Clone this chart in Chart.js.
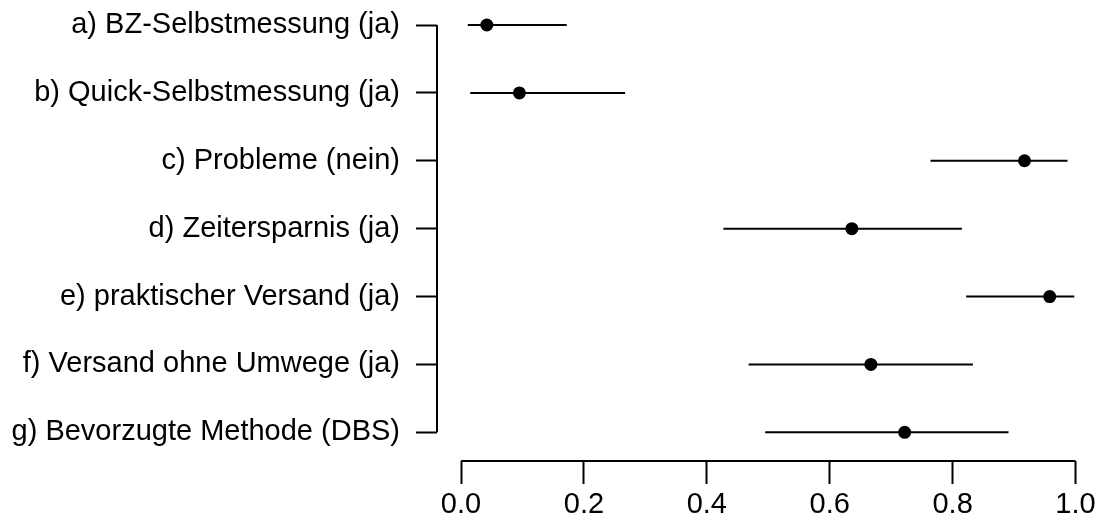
<!DOCTYPE html>
<html>
<head>
<meta charset="utf-8">
<script src="https://cdn.jsdelivr.net/npm/chart.js@4/dist/chart.umd.min.js"></script>
<style>
  html, body { margin: 0; padding: 0; background: #ffffff; }
  #wrap { width: 1098px; height: 517px; position: relative; }
</style>
</head>
<body>
<div id="wrap"><canvas id="dotChart"></canvas></div>
<script>
const categories = [
  "a) BZ-Selbstmessung (ja)",
  "b) Quick-Selbstmessung (ja)",
  "c) Probleme (nein)",
  "d) Zeitersparnis (ja)",
  "e) praktischer Versand (ja)",
  "f) Versand ohne Umwege (ja)",
  "g) Bevorzugte Methode (DBS)",
];
const estimates = [0.042, 0.095, 0.917, 0.636, 0.958, 0.667, 0.722];
const lowerCI = [0.011, 0.015, 0.764, 0.427, 0.822, 0.468, 0.495];
const upperCI = [0.172, 0.267, 0.987, 0.815, 0.998, 0.833, 0.891];
const xTicks = [0, 0.2, 0.4, 0.6, 0.8, 1.0];

const FONT = { family: "'Liberation Sans', Arial, Helvetica, sans-serif", size: 29 };
const rowPos = categories.map((_, i) => i + 1);

const ciDatasets = categories.map((label, i) => ({
  label: label,
  data: [
    { x: lowerCI[i], y: rowPos[i] },
    { x: upperCI[i], y: rowPos[i] },
  ],
  showLine: true,
  borderColor: "#000000",
  borderWidth: 2,
  pointRadius: 0,
}));

const pointDataset = {
  label: "Anteil",
  data: estimates.map((v, i) => ({ x: v, y: rowPos[i] })),
  pointRadius: 6.5,
  pointBackgroundColor: "#000000",
  pointBorderColor: "#000000",
  pointBorderWidth: 0,
};

// R-style axis lines that only span from first to last tick
const axisLines = {
  id: "axisLines",
  afterDraw(chart) {
    const { ctx, scales } = chart;
    const x = scales.x;
    const y = scales.y;
    ctx.save();
    ctx.strokeStyle = "#000000";
    ctx.lineWidth = 2;
    ctx.beginPath();
    const left = chart.chartArea.left;
    ctx.moveTo(left, y.getPixelForValue(rowPos[0]));
    ctx.lineTo(left, y.getPixelForValue(rowPos[rowPos.length - 1]));
    const bottom = chart.chartArea.bottom;
    ctx.moveTo(x.getPixelForValue(xTicks[0]), bottom);
    ctx.lineTo(x.getPixelForValue(xTicks[xTicks.length - 1]), bottom);
    ctx.stroke();
    ctx.restore();
  },
};

new Chart(document.getElementById("dotChart"), {
  type: "scatter",
  data: { datasets: [...ciDatasets, pointDataset] },
  plugins: [axisLines],
  options: {
    responsive: true,
    maintainAspectRatio: false,
    animation: false,
    layout: { autoPadding: false, padding: 0 },
    plugins: {
      legend: { display: false },
      tooltip: { enabled: false },
    },
    scales: {
      x: {
        type: "linear",
        min: -0.0391,
        max: 1.0366,
        afterBuildTicks: (scale) => {
          scale.ticks = xTicks.map((v) => ({ value: v }));
        },
        afterFit: (scale) => {
          scale.height = 56;
          scale.paddingLeft = 0;
          scale.paddingRight = 0;
        },
        border: { display: false },
        grid: {
          drawOnChartArea: false,
          drawTicks: true,
          tickLength: 23,
          tickColor: "#000000",
          tickWidth: 2,
        },
        ticks: {
          color: "#000000",
          font: FONT,
          padding: 4,
          maxRotation: 0,
          callback: (v) => Number(v).toFixed(1),
        },
      },
      y: {
        type: "linear",
        reverse: true,
        min: 0.6317,
        max: 7.4228,
        afterBuildTicks: (scale) => {
          scale.ticks = rowPos.map((v) => ({ value: v }));
        },
        afterFit: (scale) => {
          scale.width = 437;
          scale.paddingTop = 0;
          scale.paddingBottom = 0;
        },
        border: { display: false },
        grid: {
          drawOnChartArea: false,
          drawTicks: true,
          tickLength: 21,
          tickColor: "#000000",
          tickWidth: 2,
        },
        ticks: {
          color: "#000000",
          font: FONT,
          padding: 16,
          autoSkip: false,
          callback: (v) => categories[Math.round(v) - 1] ?? "",
        },
      },
    },
  },
});
</script>
</body>
</html>
